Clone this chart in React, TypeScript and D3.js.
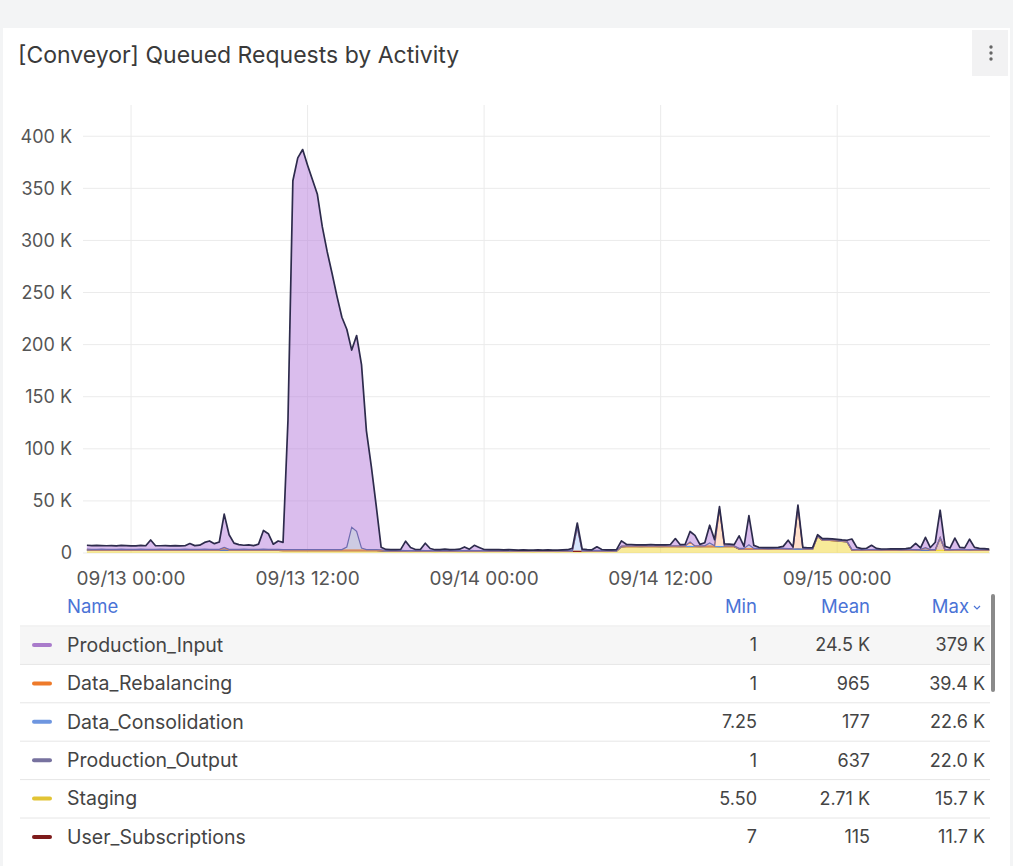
import React from 'react';
import * as d3 from 'd3';

// ---- time axis (20-minute samples, UTC) ----
const T0 = Date.UTC(2023, 8, 12, 21, 0);
const STEP = 20 * 60 * 1000;

// ---- series values, in thousands (K) ----
const productionInput = [
  3.8,3.6,3.9,3.5,3.4,3.7,3.3,3.6,3.5,3.4,
  3.2,3.6,3.5,9.0,3.4,3.3,3.6,3.2,3.5,3.4,
  3.3,5.5,3.6,4.0,6.5,8.0,5.5,7.0,32,14,
  6.0,4.5,3.8,4.2,3.6,5.0,18,15,5.0,8.0,
  7.0,124,354,376,384,369,355,341,310,286,
  265,243,223,209,170,188,176,114,80,42,
  2.5,1.0,0.9,0.8,1.0,9.0,3.0,1.0,0.9,7.0,
  2.0,0.9,0.8,1.2,0.9,1.0,1.4,3.5,1.2,5.0,
  3.0,1.1,0.9,1.0,0.8,0.7,0.9,0.6,0.5,0.6,
  0.5,0.6,0.7,0.5,0.6,0.5,0.6,0.7,0.8,2.0,
  4.0,1.5,0.8,0.7,3.5,1.0,0.7,0.6,0.8,5.0,
  1.5,1.2,1.0,1.1,1.0,1.2,1.0,1.1,1.0,1.2,
  7.0,1.2,1.5,10,10,1.5,3.0,17,6.0,2.0,
  2.0,1.5,1.2,12,2.0,28,3.0,1.0,0.8,0.9,
  0.8,0.9,2.0,8.0,1.5,2.5,1.0,0.8,0.9,1.0,
  1.0,0.8,0.9,0.8,0.7,0.9,10,2.0,1.0,1.2,
  4.0,1.0,0.6,0.5,0.6,0.5,0.7,0.8,1.5,6.0,
  1.5,10,2.0,7.0,26,3.0,1.5,11,2.0,1.5,
  10,2.0,1.0,0.8,0.5,
];

const staging = [
  2.6,2.5,2.4,2.6,2.5,2.4,2.5,2.6,2.5,2.4,
  2.5,2.6,2.4,2.5,2.5,2.6,2.4,2.5,2.5,2.4,
  2.6,2.5,2.4,2.5,2.6,2.5,2.4,2.5,2.6,2.5,
  2.4,2.5,2.6,2.5,2.4,2.5,2.6,2.5,2.4,2.5,
  2.2,2.2,2.2,2.2,2.2,2.2,2.2,2.2,2.2,2.2,
  2.2,2.2,2.2,2.2,2.2,2.2,2.2,2.2,2.2,2.2,
  2.0,1.6,1.5,1.5,1.6,1.5,1.4,1.5,1.6,1.5,
  1.5,1.4,1.5,1.6,1.5,1.5,1.4,1.5,1.6,1.5,
  1.5,1.4,1.5,1.5,1.6,1.5,1.4,1.5,1.5,1.6,
  1.5,1.4,1.5,1.5,1.6,1.5,1.4,1.5,1.5,1.6,
  1.5,1.4,1.5,1.5,1.6,1.5,1.4,1.5,1.6,5.8,
  6.0,6.1,6.0,5.9,6.0,6.1,6.0,5.9,6.0,6.1,
  6.0,5.9,6.0,6.1,6.0,5.9,6.0,6.1,6.0,5.9,
  6.0,6.1,6.0,3.6,3.5,3.4,3.5,3.6,3.5,3.4,
  3.5,3.6,3.5,3.4,3.5,3.6,3.5,3.4,3.5,15.7,
  12.0,12.2,11.8,11.5,11.0,10.5,2.6,2.5,2.4,2.5,
  2.5,2.6,2.4,2.5,2.5,2.6,2.4,2.5,2.5,2.4,
  2.6,2.5,2.4,2.5,2.6,2.5,2.4,2.5,2.6,2.5,
  2.4,2.5,2.6,2.5,2.4,
];

const productionOutput = [
  0.5,0.5,0.5,0.5,0.5,0.5,0.5,0.5,0.5,0.5,
  0.5,0.5,0.5,0.5,0.5,0.5,0.5,0.5,0.5,0.5,
  0.5,0.5,0.5,0.5,0.5,0.5,0.5,0.5,0.5,0.5,
  0.5,0.5,0.5,0.5,0.5,0.5,0.5,0.5,0.5,0.5,
  0.5,0.5,0.5,0.5,0.5,0.5,0.5,0.5,0.5,0.5,
  0.5,0.5,0.5,3.0,22,18,2.0,0.5,0.5,0.5,
  0.5,0.3,0.3,0.3,0.3,0.3,0.3,0.3,0.3,0.3,
  0.3,0.3,0.3,0.3,0.3,0.3,0.3,0.3,0.3,0.3,
  0.3,0.3,0.3,0.3,0.3,0.3,0.3,0.3,0.3,0.3,
  0.3,0.3,0.3,0.3,0.3,0.3,0.3,0.3,0.3,0.3,
  0.3,0.3,0.3,0.3,0.3,0.3,0.3,0.3,0.3,0.3,
  0.3,0.3,0.3,0.3,0.3,0.3,0.3,0.3,0.3,0.3,
  0.3,0.3,0.3,0.3,0.3,0.3,0.3,3.0,0.3,0.3,
  0.3,0.3,0.3,0.3,0.3,4.0,0.3,0.3,0.3,0.3,
  0.3,0.3,0.3,0.3,0.3,0.3,0.3,0.3,0.3,0.3,
  0.3,0.3,0.3,0.3,0.3,0.3,0.3,0.3,0.3,0.3,
  0.3,0.3,0.3,0.3,0.3,0.3,0.3,0.3,0.3,0.3,
  0.3,0.3,0.3,0.3,0.3,0.3,0.3,0.3,0.3,0.3,
  0.3,0.3,0.3,0.3,0.3,
];

const dataRebalancing = [
  0.3,0.3,0.3,0.3,0.3,0.3,0.3,0.3,0.3,0.3,
  0.3,0.3,0.3,0.3,0.3,0.3,0.3,0.3,0.3,0.3,
  0.3,0.3,0.3,0.3,0.3,0.3,0.3,0.3,2.0,0.3,
  0.3,0.3,0.3,0.3,0.3,0.3,0.3,0.3,0.3,0.3,
  0.3,0.3,0.3,0.3,0.3,0.3,0.3,0.3,0.3,0.3,
  0.3,0.3,0.3,0.3,0.3,0.3,0.3,0.3,0.3,0.3,
  0.3,0.3,0.3,0.3,0.3,0.3,0.3,0.3,0.3,0.3,
  0.3,0.3,0.3,0.3,0.3,0.3,0.3,0.3,0.3,0.3,
  0.3,0.3,0.3,0.3,0.3,0.3,0.3,0.3,0.3,0.3,
  0.3,0.3,0.3,0.3,0.3,0.3,0.3,0.3,0.3,0.3,
  0.3,0.3,0.3,0.3,0.3,0.3,0.3,0.3,0.3,0.3,
  0.3,0.3,0.3,0.3,0.3,0.3,0.3,0.3,0.3,0.3,
  0.3,0.3,0.3,4.0,0.3,0.3,0.3,0.3,0.3,36,
  0.3,0.3,0.3,0.3,0.3,0.3,0.3,0.3,0.3,0.3,
  0.3,0.3,0.3,0.3,0.3,39.4,0.3,0.3,0.3,0.3,
  0.3,0.3,0.3,0.3,0.3,0.3,0.3,0.3,0.3,0.3,
  0.3,0.3,0.3,0.3,0.3,0.3,0.3,0.3,0.3,0.3,
  0.3,2.0,0.3,0.3,0.3,0.3,0.3,0.3,0.3,0.3,
  0.3,0.3,0.3,0.3,0.3,
];

const dataConsolidation = [
  0.15,0.15,0.15,0.15,0.15,0.15,0.15,0.15,0.15,0.15,
  0.15,0.15,0.15,0.15,0.15,0.15,0.15,0.15,0.15,0.15,
  0.15,0.15,0.15,0.15,0.15,0.15,0.15,0.15,0.15,0.15,
  0.15,0.15,0.15,0.15,0.15,0.15,0.15,0.15,0.15,0.15,
  0.15,0.15,0.15,0.15,0.15,0.15,0.15,0.15,0.15,0.15,
  0.15,0.15,0.15,0.15,0.15,0.15,0.15,0.15,0.15,0.15,
  0.15,0.15,0.15,0.15,0.15,0.15,0.15,0.15,0.15,0.15,
  0.15,0.15,0.15,0.15,0.15,0.15,0.15,0.15,0.15,0.15,
  0.15,0.15,0.15,0.15,0.15,0.15,0.15,0.15,0.15,0.15,
  0.15,0.15,0.15,0.15,0.15,0.15,0.15,0.15,0.15,0.15,
  22.6,0.15,0.15,0.15,0.15,0.15,0.15,0.15,0.15,0.15,
  0.15,0.15,0.15,0.15,0.15,0.15,0.15,0.15,0.15,0.15,
  0.15,0.15,0.15,0.15,0.15,0.15,0.15,0.15,0.15,0.15,
  0.15,0.15,0.15,0.15,0.15,0.15,0.15,0.15,0.15,0.15,
  0.15,0.15,0.15,0.15,0.15,0.15,0.15,0.15,0.15,0.15,
  0.15,0.15,0.15,0.15,0.15,0.15,0.15,0.15,0.15,0.15,
  0.15,0.15,0.15,0.15,0.15,0.15,0.15,0.15,0.15,0.15,
  0.15,0.15,0.15,0.15,0.15,0.15,0.15,0.15,0.15,0.15,
  0.15,0.15,0.15,0.15,0.15,
];

const userSubscriptions = [
  0.1,0.1,0.1,0.1,0.1,0.1,0.1,0.1,0.1,0.1,
  0.1,0.1,0.1,0.1,0.1,0.1,0.1,0.1,0.1,0.1,
  0.1,0.1,0.1,0.1,0.1,0.1,0.1,0.1,0.1,0.1,
  0.1,0.1,0.1,0.1,0.1,0.1,0.1,0.1,0.1,0.1,
  0.1,0.1,0.1,0.1,0.1,0.1,0.1,0.1,0.1,0.1,
  0.1,0.1,0.1,0.1,0.1,0.1,0.1,0.1,0.1,0.1,
  0.1,0.1,0.1,0.1,0.1,0.1,0.1,0.1,0.1,0.1,
  0.1,0.1,0.1,0.1,0.1,0.1,0.1,0.1,0.1,0.1,
  0.1,0.1,0.1,0.1,0.1,0.1,0.1,0.1,0.1,0.1,
  0.1,0.1,0.1,0.1,0.1,0.1,0.1,0.1,0.1,0.1,
  0.1,0.1,0.1,0.1,0.1,0.1,0.1,0.1,0.1,0.1,
  0.1,0.1,0.1,0.1,0.1,0.1,0.1,0.1,0.1,0.1,
  0.1,0.1,0.1,0.1,0.1,0.1,0.1,0.1,0.1,0.1,
  0.1,0.1,0.1,0.1,0.1,0.1,0.1,0.1,0.1,0.1,
  0.1,0.1,0.1,0.1,0.1,0.1,0.1,0.1,0.1,0.1,
  0.1,0.1,0.1,0.1,0.1,0.1,0.1,0.1,0.1,0.1,
  0.1,0.1,0.1,0.1,0.1,0.1,0.1,0.1,0.1,0.1,
  0.1,0.1,0.1,0.1,11.7,0.1,0.1,0.1,0.1,0.1,
  0.1,0.1,0.1,0.1,0.1,
];

// ---- legend table ----
const legendNames = ['Production_Input', 'Data_Rebalancing', 'Data_Consolidation', 'Production_Output', 'Staging', 'User_Subscriptions'];
const legendColors = ['#A97BCB', '#EE7A2A', '#6E96E0', '#77729F', '#E2C434', '#7E1B1B'];
const legendMin = ['1', '1', '7.25', '1', '5.50', '7'];
const legendMean = ['24.5 K', '965', '177', '637', '2.71 K', '115'];
const legendMax = ['379 K', '39.4 K', '22.6 K', '22.0 K', '15.7 K', '11.7 K'];

// ---- axis ticks ----
const yTicks = [0, 50, 100, 150, 200, 250, 300, 350, 400];

// stacking order, bottom to top
const stackSeries = [
  { name: 'Staging', values: staging, color: '#F2D634', op: 0.5 },
  { name: 'User_Subscriptions', values: userSubscriptions, color: '#8A1F1F', op: 0.25 },
  { name: 'Data_Consolidation', values: dataConsolidation, color: '#5794F2', op: 0.25 },
  { name: 'Data_Rebalancing', values: dataRebalancing, color: '#FF8530', op: 0.25 },
  { name: 'Production_Output', values: productionOutput, color: '#6F6BB0', op: 0.35 },
  { name: 'Production_Input', values: productionInput, color: '#B57BDB', op: 0.5 },
];

const FONT = 'Inter, "Noto Sans", sans-serif';

export default function App() {
  const W = 1013, H = 866;
  const n = productionInput.length;
  const rows = d3.range(n).map((i) => {
    const r: any = { t: new Date(T0 + i * STEP) };
    stackSeries.forEach((s) => { r[s.name] = s.values[i] ?? 0; });
    return r;
  });
  const x = d3.scaleTime()
    .domain([new Date(T0), new Date(T0 + (n - 1) * STEP)])
    .range([86.9, 989.2]);
  const y = d3.scaleLinear().domain([0, 430]).range([553, 105]);
  const stacked = d3.stack<any>().keys(stackSeries.map((s) => s.name))(rows);
  const area = d3.area<any>().x((d) => x(d.data.t)).y0((d) => y(d[0])).y1((d) => y(d[1]));
  const line = d3.line<any>().x((d) => x(d.data.t)).y((d) => y(d[1]));
  const top = stacked[stacked.length - 1];
  const xTicks = x.ticks(d3.utcHour.every(12) as any);
  const fmt = d3.utcFormat('%m/%d %H:%M');

  const rowY = (k: number) => 645 + k * 38.4;

  return (
    <svg width={W} height={H} style={{ position: 'absolute', left: 0, top: 0 }} fontFamily={FONT}>
      <rect x={0} y={0} width={W} height={H} fill="#f3f4f5" />
      <rect x={3} y={28} width={W - 6} height={H - 28} fill="#ffffff" />
      <rect x={972} y={30} width={36} height={46} fill="#f2f2f3" />
      {[47, 53, 59].map((cy) => <circle key={cy} cx={991} cy={cy} r={1.7} fill="#666" />)}
      <text x={18} y={63} fontSize={23} fontWeight={400} fill="#3a3a3a">[Conveyor] Queued Requests by Activity</text>

      {/* grid */}
      {yTicks.map((v) => (
        <line key={'h' + v} x1={83} x2={990} y1={y(v)} y2={y(v)} stroke="#ebebeb" strokeWidth={1} />
      ))}
      {xTicks.map((t) => (
        <line key={'v' + t.getTime()} x1={x(t)} x2={x(t)} y1={105} y2={553} stroke="#ebebeb" strokeWidth={1} />
      ))}
      {yTicks.map((v) => (
        <text key={'yl' + v} x={72} y={y(v)} dy="0.35em" textAnchor="end" fontSize={18} fill="#555">
          {v === 0 ? '0' : `${v} K`}
        </text>
      ))}
      {xTicks.map((t) => (
        <text key={'xl' + t.getTime()} x={x(t)} y={585} textAnchor="middle" fontSize={19} fill="#555">{fmt(t)}</text>
      ))}

      {/* stacked areas */}
      {stacked.map((layer, k) => (
        <path key={'a' + k} d={area(layer) || ''} fill={stackSeries[k].color} fillOpacity={stackSeries[k].op} stroke="none" />
      ))}
      {stacked.slice(0, -1).map((layer, k) => (
        <path key={'l' + k} d={line(layer) || ''} fill="none" stroke={stackSeries[k].color} strokeWidth={1.2} />
      ))}
      <path d={line(top) || ''} fill="none" stroke="#2d2b4c" strokeWidth={1.7} strokeLinejoin="round" />

      {/* legend table */}
      <rect x={20} y={627} width={970} height={37} fill="#f6f6f6" />
      <text x={67} y={613} fontSize={18.5} fill="#4a73d6">Name</text>
      <text x={757} y={613} textAnchor="end" fontSize={18.5} fill="#4a73d6">Min</text>
      <text x={870} y={613} textAnchor="end" fontSize={18.5} fill="#4a73d6">Mean</text>
      <text x={969} y={613} textAnchor="end" fontSize={18.5} fill="#4a73d6">Max</text>
      <path d="M974,606 l3,3 l3,-3" fill="none" stroke="#4a73d6" strokeWidth={1.2} />
      {legendNames.map((name, k) => (
        <g key={name}>
          <line x1={20} x2={990} y1={rowY(k) - 19} y2={rowY(k) - 19} stroke="#e6e6e6" strokeWidth={1} />
          <rect x={32} y={rowY(k) - 2} width={20} height={4} rx={2} fill={legendColors[k]} />
          <text x={67} y={rowY(k)} dy="0.35em" fontSize={19.5} fill="#444">{name}</text>
          <text x={757} y={rowY(k)} dy="0.35em" textAnchor="end" fontSize={18} fill="#444">{legendMin[k]}</text>
          <text x={870} y={rowY(k)} dy="0.35em" textAnchor="end" fontSize={18} fill="#444">{legendMean[k]}</text>
          <text x={985} y={rowY(k)} dy="0.35em" textAnchor="end" fontSize={18} fill="#444">{legendMax[k]}</text>
        </g>
      ))}
      <rect x={991} y={594} width={4} height={98} rx={2} fill="#8a8a8a" />
    </svg>
  );
}
